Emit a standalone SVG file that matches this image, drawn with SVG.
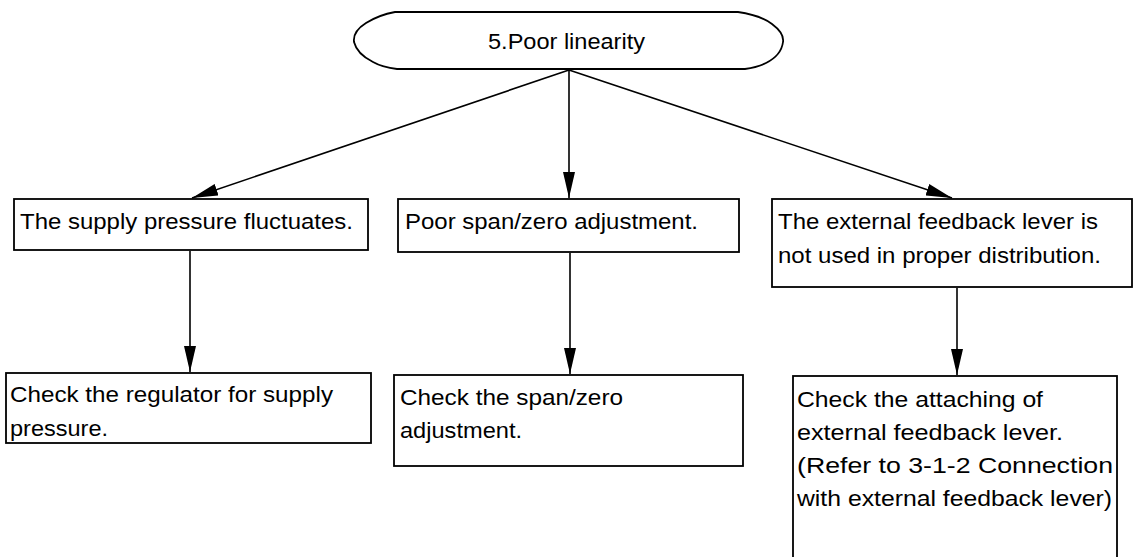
<svg xmlns="http://www.w3.org/2000/svg" width="1134" height="557" viewBox="0 0 1134 557">
<style>
.box{fill:#fff;stroke:#000;stroke-width:1.8}
.t{font-family:"Liberation Sans",Arial,sans-serif;font-size:22px;fill:#000}
.h{font-family:"Liberation Sans",Arial,sans-serif;font-size:22px;fill:#000}
.c{stroke:#000;stroke-width:1.6;fill:none;marker-end:url(#arr)}
</style>
<defs>
<marker id="arr" markerUnits="userSpaceOnUse" markerWidth="26" markerHeight="12" refX="26" refY="6" orient="auto">
<path d="M0,0 L26,6 L0,12 Z" fill="#000"/>
</marker>
</defs>
<rect width="1134" height="557" fill="#fff"/>
<g id="connectors">
<line class="c" x1="569" y1="70" x2="192" y2="198"/>
<line class="c" x1="569" y1="70" x2="569" y2="198"/>
<line class="c" x1="569" y1="70" x2="952" y2="198"/>
<line class="c" x1="190" y1="251" x2="190" y2="372"/>
<line class="c" x1="570" y1="253" x2="570" y2="374"/>
<line class="c" x1="957" y1="288" x2="957" y2="375"/>
</g>
<g id="n0">
<path class="box" d="M395,12 L738,12 C752,14 764,18 772,24 C780,30 784,36 783,42 C782,50 776,58 766,63 C760,66 752,68 745,69 L397,69 C388,68 380,66 373,62 C363,57 356,50 354,42 C353,34 358,28 366,23 C374,18 384,14 395,12 Z"/>
<text class="h" x="488" y="49" textLength="157" lengthAdjust="spacingAndGlyphs">5.Poor linearity</text>
</g>
<g id="n1">
<rect class="box" x="14" y="199" width="354" height="51"/>
<text class="t" x="20" y="229" textLength="333" lengthAdjust="spacingAndGlyphs">The supply pressure fluctuates.</text>
</g>
<g id="n2">
<rect class="box" x="398" y="199" width="341" height="53"/>
<text class="t" x="405" y="229" textLength="293" lengthAdjust="spacingAndGlyphs">Poor span/zero adjustment.</text>
</g>
<g id="n3">
<rect class="box" x="772" y="199" width="360" height="88"/>
<text class="t" x="778" y="229" textLength="320" lengthAdjust="spacingAndGlyphs">The external feedback lever is</text>
<text class="t" x="778" y="263" textLength="323" lengthAdjust="spacingAndGlyphs">not used in proper distribution.</text>
</g>
<g id="n4">
<rect class="box" x="6" y="373" width="365" height="70"/>
<text class="t" x="10" y="402" textLength="323" lengthAdjust="spacingAndGlyphs">Check the regulator for supply</text>
<text class="t" x="10" y="436" textLength="98" lengthAdjust="spacingAndGlyphs">pressure.</text>
</g>
<g id="n5">
<rect class="box" x="394" y="375" width="349" height="91"/>
<text class="t" x="400" y="405" textLength="223" lengthAdjust="spacingAndGlyphs">Check the span/zero</text>
<text class="t" x="400" y="438" textLength="122" lengthAdjust="spacingAndGlyphs">adjustment.</text>
</g>
<g id="n6">
<rect class="box" x="793" y="376" width="324" height="200"/>
<text class="t" x="797" y="407" textLength="246" lengthAdjust="spacingAndGlyphs">Check the attaching of</text>
<text class="t" x="797" y="440" textLength="266" lengthAdjust="spacingAndGlyphs">external feedback lever.</text>
<text class="t" x="797" y="473" textLength="316" lengthAdjust="spacingAndGlyphs">(Refer to 3-1-2 Connection</text>
<text class="t" x="797" y="506" textLength="315" lengthAdjust="spacingAndGlyphs">with external feedback lever)</text>
</g>
</svg>
